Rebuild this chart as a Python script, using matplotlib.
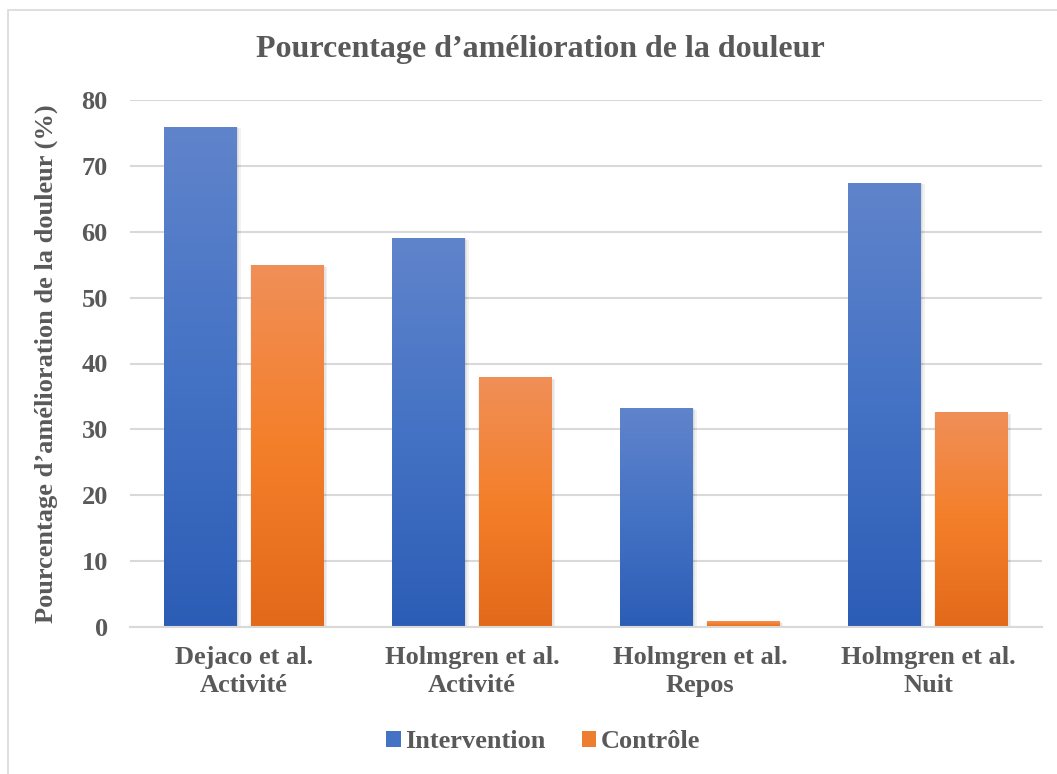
import numpy as np
import matplotlib.pyplot as plt
from matplotlib.colors import LinearSegmentedColormap
from matplotlib.patches import Rectangle

# data
categories = ["Dejaco et al.\nActivité", "Holmgren et al.\nActivité",
              "Holmgren et al.\nRepos", "Holmgren et al.\nNuit"]
intervention = [75.9, 59.0, 33.2, 67.4]
controle = [54.9, 37.8, 0.8, 32.5]
series_names = ["Intervention", "Contrôle"]

grey = "#595959"
fs = 19
plt.rcParams['font.family'] = ['Liberation Serif', 'DejaVu Serif']
plt.rcParams['font.weight'] = 'bold'

fig = plt.figure(figsize=(10.57, 7.74), dpi=100)
ax = fig.add_axes([130 / 1057, 1 - 627 / 774, 912 / 1057, 527 / 774])

# outer frame of the chart (only left and top edges fall inside the picture)
fig.patches.append(Rectangle((8 / 1057, -10 / 774), 1060 / 1057, 774 / 774,
                             transform=fig.transFigure, fill=False,
                             edgecolor="#D9D9D9", lw=1.2))

x = np.arange(len(categories))
w = 0.32
off = 0.19

blue_cm = LinearSegmentedColormap.from_list("b", ["#2C5DB6", "#4472C4", "#6084CB"])
orange_cm = LinearSegmentedColormap.from_list("o", ["#E2691A", "#F47F2A", "#F08F58"])

b1 = ax.bar(x - off, intervention, w, color="#4472C4", label=series_names[0], zorder=2)
b2 = ax.bar(x + off, controle, w, color="#ED7D31", label=series_names[1], zorder=2)

grad = np.linspace(0, 1, 256).reshape(-1, 1)
for bars, cm in [(b1, blue_cm), (b2, orange_cm)]:
    for r in bars:
        x0, y0 = r.get_x(), r.get_y()
        bw, bh = r.get_width(), r.get_height()
        # soft shadow, shifted a little right
        for k in range(3):
            ax.add_patch(Rectangle((x0 - 0.002 + 0.003 * k, y0), bw + 0.004 * (k + 1), bh - 0.1 * k,
                                   color="black", alpha=0.05, lw=0, zorder=1.5))
        ax.imshow(grad, extent=(x0, x0 + bw, y0, y0 + bh), origin="lower",
                  cmap=cm, aspect="auto", zorder=2.5)

ax.set_xlim(-0.5, len(categories) - 0.5)
ax.set_ylim(0, 80)
ax.set_yticks(range(0, 81, 10))
ax.set_xticks(x)
ax.set_xticklabels(categories, fontsize=fs, color=grey, fontweight="bold", linespacing=1.25)
ax.tick_params(axis="y", labelsize=fs, labelcolor=grey, length=0, pad=16)
ax.tick_params(axis="x", length=0, pad=14)
ax.grid(axis="y", color="#D9D9D9", lw=1.5, zorder=0)
ax.set_axisbelow(True)
for s in ["top", "right", "left"]:
    ax.spines[s].set_visible(False)
ax.spines["bottom"].set_color("#D9D9D9")
ax.spines["bottom"].set_linewidth(1.5)

ax.set_ylabel("Pourcentage d\u2019amélioration de la douleur (%)", fontsize=fs,
              color=grey, fontweight="bold")
ax.yaxis.set_label_coords(-0.079, 0.5)
fig.text(540 / 1057, 1 - 50 / 774, "Pourcentage d\u2019amélioration de la douleur",
         ha="center", va="center", fontsize=23, color=grey, fontweight="bold")

leg = fig.legend(handles=[b1, b2], labels=series_names, loc="center",
                 bbox_to_anchor=(543 / 1057, 1 - 742 / 774), ncol=2, frameon=False,
                 fontsize=fs, handlelength=0.55, handleheight=0.55, handletextpad=0.15,
                 columnspacing=1.4)
for t in leg.get_texts():
    t.set_color(grey)

fig.savefig("out.png", dpi=100)
